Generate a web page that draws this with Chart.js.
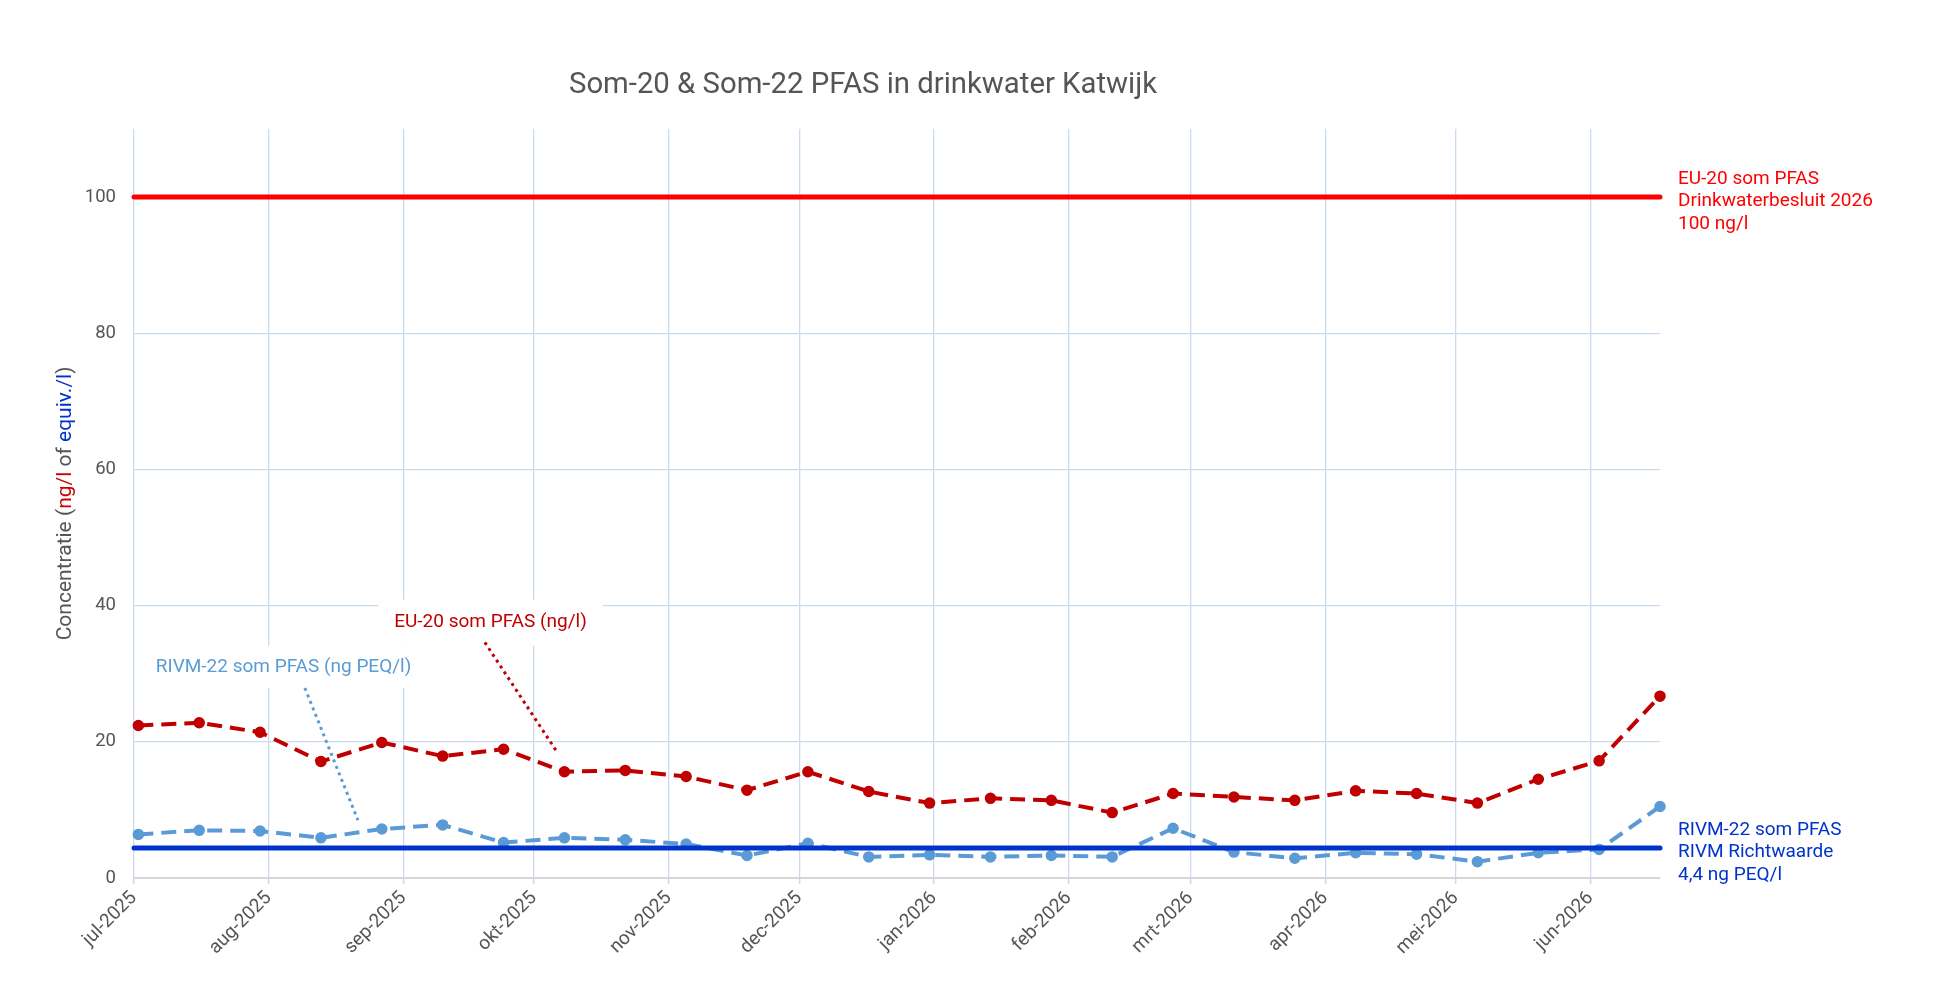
<!DOCTYPE html>
<html>
<head>
<meta charset="utf-8">
<title>Som-20 & Som-22 PFAS in drinkwater Katwijk</title>
<script src="https://cdn.jsdelivr.net/npm/chart.js@4.4.1/dist/chart.umd.min.js"></script>
<style>
  html, body { margin: 0; padding: 0; background: #fff; }
  #wrap { width: 1959px; height: 988px; position: relative; }
</style>
</head>
<body>
<div id="wrap"><canvas id="pfasChart"></canvas></div>
<script>
// Meetdata, tweewekelijks
const sampleDates = [
  '2025-07-02', '2025-07-16', '2025-07-30', '2025-08-13', '2025-08-27', '2025-09-10',
  '2025-09-24', '2025-10-08', '2025-10-22', '2025-11-05', '2025-11-19', '2025-12-03',
  '2025-12-17', '2025-12-31', '2026-01-14', '2026-01-28', '2026-02-11', '2026-02-25',
  '2026-03-11', '2026-03-25', '2026-04-08', '2026-04-22', '2026-05-06', '2026-05-20',
  '2026-06-03', '2026-06-17'
];
const eu20Values = [
  22.4, 22.8, 21.4, 17.1, 19.9, 17.9, 18.9, 15.6, 15.8, 14.9, 12.9, 15.6, 12.7,
  11.0, 11.7, 11.4, 9.6, 12.4, 11.9, 11.4, 12.8, 12.4, 11.0, 14.5, 17.2, 26.7
];
const rivm22Values = [
  6.4, 7.0, 6.9, 5.9, 7.2, 7.8, 5.2, 5.9, 5.6, 5.0, 3.3, 5.1, 3.1,
  3.4, 3.1, 3.3, 3.1, 7.3, 3.8, 2.9, 3.7, 3.5, 2.4, 3.7, 4.2, 10.5
];

// Normen
const eu20Limit = 100;
const rivm22Limit = 4.4;
const eu20LimitText = ['EU-20 som PFAS', 'Drinkwaterbesluit 2026', '100 ng/l'];
const rivm22LimitText = ['RIVM-22 som PFAS', 'RIVM Richtwaarde', '4,4 ng PEQ/l'];

// Assen
const monthStarts = [
  '2025-07-01', '2025-08-01', '2025-09-01', '2025-10-01', '2025-11-01', '2025-12-01',
  '2026-01-01', '2026-02-01', '2026-03-01', '2026-04-01', '2026-05-01', '2026-06-01'
];
const monthLabels = [
  'jul-2025', 'aug-2025', 'sep-2025', 'okt-2025', 'nov-2025', 'dec-2025',
  'jan-2026', 'feb-2026', 'mrt-2026', 'apr-2026', 'mei-2026', 'jun-2026'
];
const yTickValues = [0, 20, 40, 60, 80, 100];
const yMax = 110;

const RED = '#c00000';
const LIGHTBLUE = '#5b9bd5';
const GRID = '#c9dcef';
const TEXT = '#555555';

// dagen sinds 1 juli 2025
const startDate = Date.parse(monthStarts[0]);
function dayOf(s) {
  return (Date.parse(s) - startDate) / 86400000;
}
const lastDay = dayOf(sampleDates[sampleDates.length - 1]);

// Labels bij de lijnen (positie in asdata: dag, waarde)
const seriesLabels = [
  { text: 'EU-20 som PFAS (ng/l)', color: RED, day: 82, value: 37.5, padX: 16, padY: 14,
    from: [80.7, 34.6], to: [97.1, 18.7] },
  { text: 'RIVM-22 som PFAS (ng PEQ/l)', color: LIGHTBLUE, day: 34.4, value: 31.0, padX: 16, padY: 12,
    from: [39.3, 27.9], to: [51.5, 8.5] }
];

const extrasPlugin = {
  id: 'extras',
  afterDatasetsDraw(chart) {
    const { ctx, chartArea } = chart;
    const xs = chart.scales.x;
    const ys = chart.scales.y;
    ctx.save();

    // lijnlabels met witte achtergrond en stippellijn
    ctx.font = '19px Roboto';
    seriesLabels.forEach((lab) => {
      const cx = xs.getPixelForValue(lab.day);
      const cy = ys.getPixelForValue(lab.value);
      const w = ctx.measureText(lab.text).width;
      ctx.fillStyle = '#ffffff';
      ctx.fillRect(cx - w / 2 - lab.padX, cy - 9 - lab.padY, w + lab.padX * 2, 18 + lab.padY * 2);
      ctx.fillStyle = lab.color;
      ctx.textAlign = 'center';
      ctx.textBaseline = 'middle';
      ctx.fillText(lab.text, cx, cy);

      ctx.beginPath();
      ctx.setLineDash([3, 4]);
      ctx.lineWidth = 3;
      ctx.strokeStyle = lab.color;
      ctx.moveTo(xs.getPixelForValue(lab.from[0]), ys.getPixelForValue(lab.from[1]));
      ctx.lineTo(xs.getPixelForValue(lab.to[0]), ys.getPixelForValue(lab.to[1]));
      ctx.stroke();
      ctx.setLineDash([]);
    });

    // teksten rechts van de normlijnen
    const drawLimitText = (lines, value, color) => {
      const y0 = ys.getPixelForValue(value) + 4.5;
      ctx.fillStyle = color;
      ctx.textAlign = 'left';
      ctx.textBaseline = 'middle';
      lines.forEach((line, i) => {
        ctx.fillText(line, chartArea.right + 18, y0 + (i - 1) * 22.5);
      });
    };
    drawLimitText(eu20LimitText, eu20Limit, '#ff0000');
    drawLimitText(rivm22LimitText, rivm22Limit, '#0033cc');
    ctx.restore();
  },
  afterDraw(chart) {
    // y-as titel in meerdere kleuren
    const { ctx, chartArea } = chart;
    const parts = [
      ['Concentratie (', TEXT], ['ng/l', '#cc0000'], [' of ', TEXT],
      ['equiv./l', '#0033cc'], [')', TEXT]
    ];
    ctx.save();
    ctx.font = '21px Roboto';
    const total = parts.reduce((s, p) => s + ctx.measureText(p[0]).width, 0);
    ctx.translate(66, (chartArea.top + chartArea.bottom) / 2);
    ctx.rotate(-Math.PI / 2);
    ctx.textBaseline = 'middle';
    ctx.textAlign = 'left';
    let x = -total / 2;
    parts.forEach(([t, c]) => {
      ctx.fillStyle = c;
      ctx.fillText(t, x, 0);
      x += ctx.measureText(t).width;
    });
    ctx.restore();
  }
};

const ctx = document.getElementById('pfasChart').getContext('2d');
new Chart(ctx, {
  type: 'line',
  data: {
    datasets: [
      {
        label: 'EU-20 norm',
        data: [{ x: 0, y: eu20Limit }, { x: lastDay, y: eu20Limit }],
        borderColor: '#ff0000',
        borderWidth: 5,
        borderCapStyle: 'round',
        pointRadius: 0,
        clip: false
      },
      {
        label: 'RIVM norm',
        data: [{ x: 0, y: rivm22Limit }, { x: lastDay, y: rivm22Limit }],
        borderColor: '#0033cc',
        borderWidth: 5,
        borderCapStyle: 'round',
        pointRadius: 0,
        clip: false
      },
      {
        label: 'EU-20 som PFAS (ng/l)',
        data: sampleDates.map((d, i) => ({ x: dayOf(d), y: eu20Values[i] })),
        borderColor: RED,
        backgroundColor: RED,
        borderWidth: 4,
        borderDash: [15, 8],
        pointRadius: 5,
        pointBorderWidth: 1.5,
        pointBackgroundColor: RED,
        pointBorderColor: RED,
        clip: false
      },
      {
        label: 'RIVM-22 som PFAS (ng PEQ/l)',
        data: sampleDates.map((d, i) => ({ x: dayOf(d), y: rivm22Values[i] })),
        borderColor: LIGHTBLUE,
        backgroundColor: LIGHTBLUE,
        borderWidth: 4,
        borderDash: [15, 8],
        pointRadius: 5,
        pointBorderWidth: 1.5,
        pointBackgroundColor: LIGHTBLUE,
        pointBorderColor: LIGHTBLUE,
        clip: false
      }
    ]
  },
  options: {
    responsive: true,
    maintainAspectRatio: false,
    animation: false,
    layout: { padding: { left: 66, right: 299, top: 0, bottom: 0 } },
    plugins: {
      legend: { display: false },
      tooltip: { enabled: false },
      title: {
        display: true,
        text: 'Som-20 & Som-22 PFAS in drinkwater Katwijk',
        color: TEXT,
        font: { family: 'Roboto', size: 29.3, weight: 'normal' },
        padding: { top: 68.4, bottom: 25.3 }
      }
    },
    scales: {
      x: {
        type: 'linear',
        bounds: 'data',
        min: 0,
        max: lastDay,
        afterBuildTicks: (s) => { s.ticks = monthStarts.map((d) => ({ value: dayOf(d) })); },
        afterFit: (s) => { s.height = 110; },
        ticks: {
          autoSkip: false,
          minRotation: 45,
          maxRotation: 45,
          color: TEXT,
          font: { family: 'Roboto', size: 19 },
          padding: 3,
          callback: (v, i) => monthLabels[i]
        },
        grid: { color: GRID, lineWidth: 1.3, tickLength: 6, tickColor: '#d6d6d6', tickWidth: 1.5 },
        border: { color: '#d6d6d6', width: 2 }
      },
      y: {
        bounds: 'data',
        min: 0,
        max: yMax,
        afterBuildTicks: (s) => { s.ticks = yTickValues.map((v) => ({ value: v })); },
        afterFit: (s) => { s.width = 68; },
        ticks: { color: TEXT, font: { family: 'Roboto', size: 18.5 }, padding: 18 },
        grid: {
          color: (c) => (c.tick && c.tick.value === 0 ? 'rgba(0,0,0,0)' : GRID),
          lineWidth: 1.3,
          drawTicks: false
        },
        border: { display: false }
      }
    }
  },
  plugins: [extrasPlugin]
});
</script>
</body>
</html>
